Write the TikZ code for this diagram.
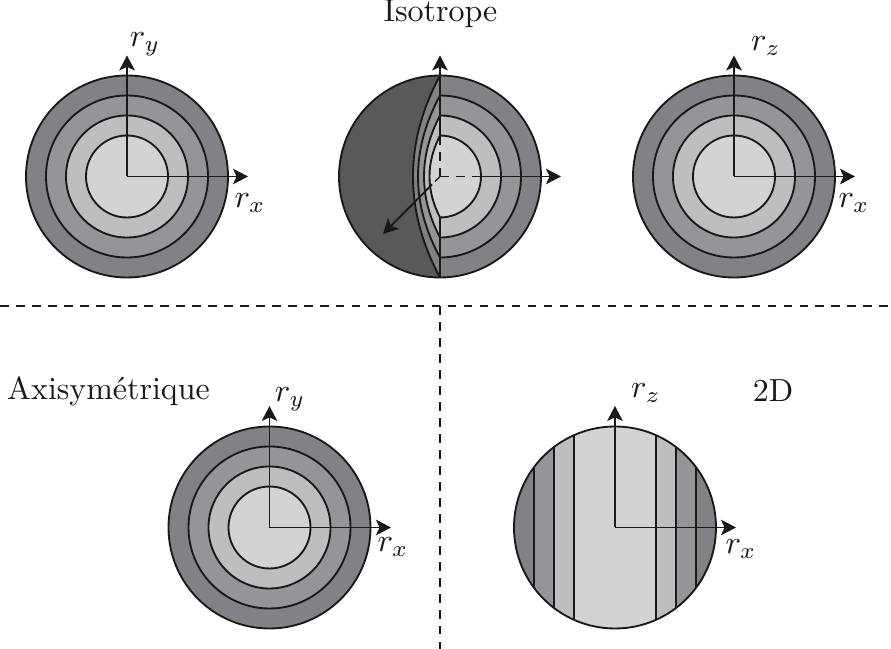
\documentclass[tikz,border=0pt]{standalone}
\usetikzlibrary{arrows.meta}
\definecolor{ringA}{HTML}{808285}
\definecolor{ringB}{HTML}{939598}
\definecolor{ringC}{HTML}{BCBEC0}
\definecolor{ringD}{HTML}{D1D3D4}
\definecolor{darkside}{HTML}{58595B}
\tikzset{
  edge/.style={draw=black!90,line width=0.62pt},
  axis/.style={edge,-{Stealth[length=5pt,width=5.2pt,inset=1.2pt]}},
  sep/.style={draw=black!90,line width=0.45pt,dash pattern=on 2.9pt off 2.43pt},
  lab/.style={inner sep=0pt,text=black!90,scale=1.065,transform shape},
  mlab/.style={inner sep=0pt,text=black!90,scale=1.08,transform shape}
}
\newcommand{\rings}[1]{%
  \path[edge,fill=ringA] (#1) circle[radius=101];
  \path[edge,fill=ringB] (#1) circle[radius=81];
  \path[edge,fill=ringC] (#1) circle[radius=61];
  \path[edge,fill=ringD] (#1) circle[radius=41];
}
\begin{document}
\begin{tikzpicture}[x=0.33333pt,y=-0.33333pt]
\useasboundingbox (0,0) rectangle (891,649);
% separators
\coordinate (hl) at (0,306); \coordinate (hr) at (891,306);
\coordinate (vt) at (440,306); \coordinate (vb) at (440,649);
\draw[sep] (hl) -- (hr);
\draw[sep] (vt) -- (vb);
% left
\coordinate (A) at (127,176.5);
\coordinate (Ax) at (248,176.5); \coordinate (Ay) at (127,55.5);
\rings{A}
\draw[axis] (A) -- (Ax);
\draw[axis] (A) -- (Ay);
\node[mlab] (Aly) at (145,44) {$r_y$};
\node[mlab] (Alx) at (250,203) {$r_x$};
% middle
\coordinate (B) at (440,176.5);
\coordinate (Bx) at (561,176.5); \coordinate (By) at (440,55.5);
\coordinate (Bz) at (383,234); \coordinate (Bi) at (481,176.5);
\coordinate (Bzs) at (432,184.5); \coordinate (Bq) at (435,181.5); \coordinate (Bt) at (440,135.5);
\coordinate (Bbot) at (440,217.5); \coordinate (Btop) at (440,75.5); \coordinate (Bend) at (440,277.5);
\path[edge,fill=ringA] (440,75.5) arc[start angle=-90,end angle=90,radius=101];
\path[edge,fill=ringB] (440,95.5) arc[start angle=-90,end angle=90,radius=81];
\path[edge,fill=ringC] (440,115.5) arc[start angle=-90,end angle=90,radius=61];
\path[edge,fill=ringD] (440,135.5) arc[start angle=-90,end angle=90,radius=41];
\path[edge,fill=darkside] (440,75.5) arc[start angle=-90,end angle=-270,radius=101];
\path[edge,fill=ringA] (440,75.5) .. controls (404,142.5) and (404,210.5) .. (440,277.5);
\path[edge,fill=ringB] (440,95.5) .. controls (410.7,149.5) and (410.7,203.5) .. (440,257.5);
\path[edge,fill=ringC] (440,115.5) .. controls (418.7,156) and (418.7,197) .. (440,237.5);
\path[edge,fill=ringD] (440,135.5) .. controls (426,163) and (426,190) .. (440,217.5);
\draw[edge] (Btop) -- (Bt);
\draw[edge] (Bbot) -- (Bend);
\draw[axis] (Bi) -- (Bx);
\draw[axis] (Bt) -- (By);
\draw[sep] (B) -- (Bi);
\draw[sep] (B) -- (Bt);
\draw[sep] (B) -- (Bq);
\draw[axis] (Bzs) -- (Bz);
\node[lab] (title) at (440.5,14) {Isotrope};
% right
\coordinate (C) at (734,176.5);
\coordinate (Cx) at (855,176.5); \coordinate (Cy) at (734,55.5);
\rings{C}
\draw[axis] (C) -- (Cx);
\draw[axis] (C) -- (Cy);
\node[mlab] (Cly) at (766,46) {$r_z$};
\node[mlab] (Clx) at (854,203) {$r_x$};
% bottom left
\coordinate (D) at (269.5,527.5);
\coordinate (Dx) at (391,527.5); \coordinate (Dy) at (269.5,406);
\rings{D}
\draw[axis] (D) -- (Dx);
\draw[axis] (D) -- (Dy);
\node[lab] (Dtitle) at (108.5,391.5) {Axisym\'etrique};
\node[mlab] (Dly) at (290,399) {$r_y$};
\node[mlab] (Dlx) at (393,547) {$r_x$};
% bottom right
\coordinate (E) at (615,527.5);
\coordinate (Ex) at (736,527.5); \coordinate (Ey) at (615,406);
\begin{scope}
\clip (E) circle[radius=101];
\fill[ringA] (514,426) rectangle (716,629);
\fill[ringB] (534,426) rectangle (696,629);
\fill[ringC] (554,426) rectangle (676,629);
\fill[ringD] (574,426) rectangle (656,629);
\foreach \dx in {-81,-61,-41,41,61,81}
  \draw[edge] (615+\dx,426) -- (615+\dx,629);
\end{scope}
\draw[edge] (E) circle[radius=101];
\draw[axis] (E) -- (Ex);
\draw[axis] (E) -- (Ey);
\node[mlab] (Ely) at (646,393) {$r_z$};
\node[mlab] (Elx) at (741,549) {$r_x$};
\node[lab] (Etitle) at (773,391) {2D};
\end{tikzpicture}
\end{document}
